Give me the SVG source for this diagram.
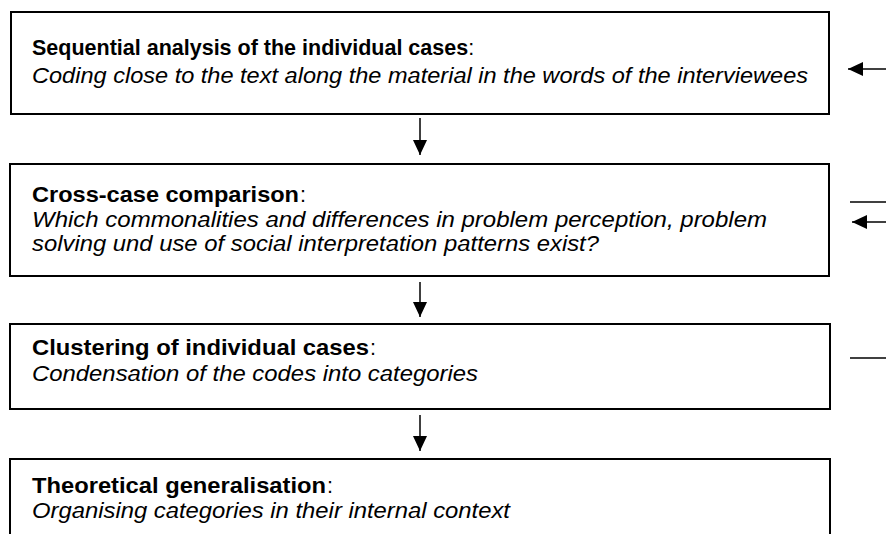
<svg xmlns="http://www.w3.org/2000/svg" width="886" height="534" viewBox="0 0 886 534">
<style>
.box{fill:#fff;stroke:#000;stroke-width:2}
.t{font-family:"Liberation Sans",Arial,sans-serif;font-size:21.5px;fill:#000}
.b{font-weight:bold}
.i{font-style:italic}
.c{stroke:#000;stroke-width:1.5;fill:none}
</style>
<defs>
<marker id="ah" markerUnits="userSpaceOnUse" markerWidth="16" markerHeight="16" viewBox="0 0 16 16" refX="15" refY="8" orient="auto">
<path d="M0,1 L15,8 L0,15 Z" fill="#000"/>
</marker>
</defs>
<rect width="886" height="534" fill="#fff"/>
<g id="node1">
<rect class="box" x="11" y="12" width="818" height="102"/>
<text class="t" x="32" y="55"><tspan class="b">Sequential analysis of the individual cases</tspan>:</text>
<text class="t i" x="32" y="83" textLength="776" lengthAdjust="spacingAndGlyphs">Coding close to the text along the material in the words of the interviewees</text>
</g>
<g id="node2">
<rect class="box" x="10" y="164" width="819" height="112"/>
<text class="t b" x="32" y="202" textLength="267" lengthAdjust="spacingAndGlyphs">Cross-case comparison</text>
<text class="t" x="300" y="202">:</text>
<text class="t i" x="32" y="227" textLength="735" lengthAdjust="spacingAndGlyphs">Which commonalities and differences in problem perception, problem</text>
<text class="t i" x="32" y="251" textLength="567" lengthAdjust="spacingAndGlyphs">solving und use of social interpretation patterns exist?</text>
</g>
<g id="node3">
<rect class="box" x="10" y="324" width="820" height="85"/>
<text class="t b" x="32" y="355" textLength="337" lengthAdjust="spacingAndGlyphs">Clustering of individual cases</text>
<text class="t" x="370" y="355">:</text>
<text class="t i" x="32" y="381" textLength="446" lengthAdjust="spacingAndGlyphs">Condensation of the codes into categories</text>
</g>
<g id="node4">
<rect class="box" x="10" y="459" width="820" height="90"/>
<text class="t b" x="32" y="493" textLength="294" lengthAdjust="spacingAndGlyphs">Theoretical generalisation</text>
<text class="t" x="327" y="493">:</text>
<text class="t i" x="32" y="518" textLength="478" lengthAdjust="spacingAndGlyphs">Organising categories in their internal context</text>
</g>
<g id="connectors">
<line class="c" x1="420" y1="118" x2="420" y2="155" marker-end="url(#ah)"/>
<line class="c" x1="420" y1="282" x2="420" y2="317" marker-end="url(#ah)"/>
<line class="c" x1="420" y1="415" x2="420" y2="451" marker-end="url(#ah)"/>
<line class="c" x1="886" y1="69" x2="848" y2="69" marker-end="url(#ah)"/>
<line class="c" x1="850" y1="202" x2="886" y2="202"/>
<line class="c" x1="886" y1="222" x2="852" y2="222" marker-end="url(#ah)"/>
<line class="c" x1="850" y1="358" x2="886" y2="358"/>
</g>
</svg>
